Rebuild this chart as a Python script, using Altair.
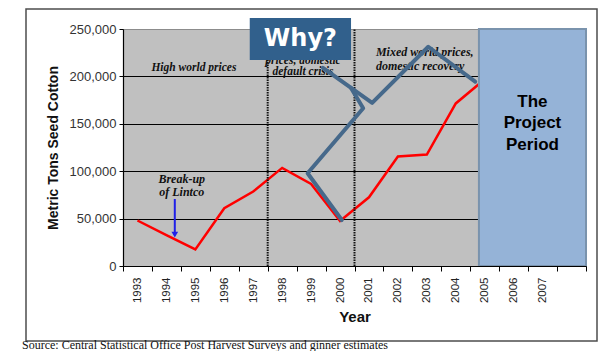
import altair as alt
import pandas as pd

# ---- data ----
years = [1993, 1994, 1995, 1996, 1997, 1998, 1999, 2000, 2001, 2002, 2003, 2004, 2005]
production = [48000, 32500, 17500, 61000, 78500, 103500, 86500, 47500, 72500, 115500, 117500, 171500, 197000]

y_ticks = [0, 50000, 100000, 150000, 200000, 250000]
x_edges = [1992.5 + i for i in range(17)]
period_breaks = [1997.5, 2000.5]

# period annotations (data units)
center_labels = ["High world prices", "prices, domestic", "default crisis"]
center_label_x = [1994.95, 1998.72, 1998.72]
center_label_y = [209000, 216500, 204500]
left_labels = ["Mixed world prices,", "domestic recovery"]
left_label_x = [2001.24, 2001.24]
left_label_y = [226000, 211000]

breakup_labels = ["Break-up", "of Lintco"]
breakup_x = [1994.53, 1994.53]
breakup_y = [91500, 77700]
arrow_x = [1994.29]
arrow_top = [70700]
arrow_bottom = [33000]

# "Why?" scribble (two strokes)
scribble_x = [2000.06, 1998.88, 2000.80, 2000.38, 1999.41, 2001.11, 2003.05, 2004.67]
scribble_y = [48500, 97800, 166400, 187800, 208900, 172000, 231300, 194400]
scribble_stroke = [1, 1, 1, 1, 2, 2, 2, 2]
scribble_order = [0, 1, 2, 3, 0, 1, 2, 3]

why_box_x = [1996.88]
why_box_x2 = [2000.38]
why_box_y = [217300]
why_box_y2 = [261600]
why_text_x = [1998.63]
why_text_y = [239500]

project_x = [2004.8]
project_x2 = [2008.5]
project_y = [0]
project_y2 = [250000]
project_lines = ["The", "Project", "Period"]
project_text_x = [2006.65, 2006.65, 2006.65]
project_text_y = [173300, 150800, 127600]

source_text = "Source: Central Statistical Office Post Harvest Surveys and ginner estimates"

# ---- scales & axes (identical in every layer so they merge cleanly) ----
xs = alt.Scale(domain=[1992.5, 2008.5], nice=False, zero=False)
ys = alt.Scale(domain=[0, 250000], nice=False, zero=False)

x_axis = alt.Axis(
    title="Year", values=x_edges,
    labelExpr="datum.value < 2007 ? toString(datum.value + 0.5) : ''",
    labelAngle=-90, labelOffset=14.45, labelFlush=False, labelPadding=6,
    labelFont="Liberation Sans", labelFontSize=11.5, labelColor="#222222",
    labelOverlap=False,
    tickSize=5, tickColor="#000000", domainColor="#000000", domainWidth=1.2,
    grid=False, titleFont="Liberation Sans", titleFontSize=15,
    titleFontWeight="bold", titleColor="#111111", titlePadding=7, zindex=1,
)
y_axis = alt.Axis(
    title="Metric Tons Seed Cotton", values=y_ticks, format=",.0f",
    labelFont="Liberation Sans", labelFontSize=13, labelColor="#333333",
    labelPadding=3, labelOverlap=False, tickSize=4, tickColor="#000000",
    domainColor="#000000", domainWidth=1.2,
    grid=True,
    gridColor={"condition": {"test": "datum.value === 250000", "value": "#8c8c8c"}, "value": "#000000"},
    gridWidth=1,
    titleFont="Liberation Sans", titleFontSize=14, titleFontWeight="bold",
    titleColor="#111111", titlePadding=9,
)


def X(field="x"):
    return alt.X(field, type="quantitative", scale=xs, axis=x_axis)


def Y(field="y"):
    return alt.Y(field, type="quantitative", scale=ys, axis=y_axis)


one = pd.DataFrame({"a": [0]})

frame = alt.Chart(one).mark_rect(fillOpacity=0, stroke="#4d4d4d", strokeWidth=1.5).encode(
    x=alt.value(-97), x2=alt.value(474), y=alt.value(-20), y2=alt.value(312)
)

red_df = pd.DataFrame({"x": years, "y": production})
red = alt.Chart(red_df).mark_line(color="#ff0000", strokeWidth=2.5).encode(x=X(), y=Y())

breaks_df = pd.DataFrame({"x": period_breaks, "y": [0, 0], "y2": [250000, 250000]})
breaks = alt.Chart(breaks_df).mark_rule(color="#111111", strokeWidth=2, strokeDash=[1.5, 1]).encode(
    x=X(), y=Y(), y2="y2"
)

txt_style = dict(font="Liberation Serif", fontStyle="italic", fontWeight="bold", fontSize=12, color="#111111")
center_df = pd.DataFrame({"x": center_label_x, "y": center_label_y, "t": center_labels})
center_txt = alt.Chart(center_df).mark_text(align="center", baseline="middle", **{**txt_style, "fontSize": 11.5}).encode(
    x=X(), y=Y(), text="t:N"
)
left_df = pd.DataFrame({"x": left_label_x, "y": left_label_y, "t": left_labels})
left_txt = alt.Chart(left_df).mark_text(align="left", baseline="middle", **txt_style).encode(
    x=X(), y=Y(), text="t:N"
)
breakup_df = pd.DataFrame({"x": breakup_x, "y": breakup_y, "t": breakup_labels})
breakup_txt = alt.Chart(breakup_df).mark_text(align="center", baseline="middle", **txt_style).encode(
    x=X(), y=Y(), text="t:N"
)
arrow_df = pd.DataFrame({"x": arrow_x, "y": arrow_top, "y2": arrow_bottom})
arrow = alt.Chart(arrow_df).mark_rule(color="#2020e8", strokeWidth=2).encode(x=X(), y=Y(), y2="y2")
arrow_head = alt.Chart(arrow_df).mark_point(
    shape="triangle-down", filled=True, color="#2020e8", size=45, opacity=1
).encode(x=X(), y=Y("y2"))

project_df = pd.DataFrame({"x": project_x, "x2": project_x2, "y": project_y, "y2": project_y2})
project_box = alt.Chart(project_df).mark_rect(fill="#95b3d7", stroke="#7a93ad", strokeWidth=2).encode(
    x=X(), x2="x2", y=Y(), y2="y2"
)
project_txt_df = pd.DataFrame({"x": project_text_x, "y": project_text_y, "t": project_lines})
project_txt = alt.Chart(project_txt_df).mark_text(
    font="Liberation Sans", fontWeight="bold", fontSize=17, color="#000000",
    align="center", baseline="middle",
).encode(x=X(), y=Y(), text="t:N")

scribble_df = pd.DataFrame({"x": scribble_x, "y": scribble_y, "s": scribble_stroke, "o": scribble_order})
scribble = alt.Chart(scribble_df).mark_line(
    color="#46698b", strokeWidth=4, strokeJoin="round", strokeCap="round"
).encode(x=X(), y=Y(), detail="s:N", order="o:Q")

why_df = pd.DataFrame({"x": why_box_x, "x2": why_box_x2, "y": why_box_y, "y2": why_box_y2})
why_box = alt.Chart(why_df).mark_rect(fill="#31608c").encode(x=X(), x2="x2", y=Y(), y2="y2")
why_txt_df = pd.DataFrame({"x": why_text_x, "y": why_text_y, "t": ["Why?"]})
why_txt = alt.Chart(why_txt_df).mark_text(
    font="DejaVu Sans", fontWeight="bold", fontSize=24, color="#ffffff",
    align="center", baseline="middle",
).encode(x=X(), y=Y(), text="t:N")

source = alt.Chart(one).mark_text(
    font="Liberation Serif", fontSize=12, color="#111111", align="left", baseline="alphabetic",
    text=source_text,
).encode(x=alt.value(-101), y=alt.value(320))

chart = alt.layer(
    red, frame, center_txt, left_txt, breaks, breakup_txt, arrow, arrow_head,
    project_box, project_txt, scribble, why_box, why_txt, source,
).properties(
    width=463, height=237,
    autosize=alt.AutoSizeParams(type="none"),
    padding={"left": 115, "top": 21, "right": 12, "bottom": 85},
).configure_view(
    fill="#c0c0c0", stroke="#8c8c8c", strokeWidth=1,
)

chart.save("out.html", embed_options={"renderer": "svg", "actions": False})
